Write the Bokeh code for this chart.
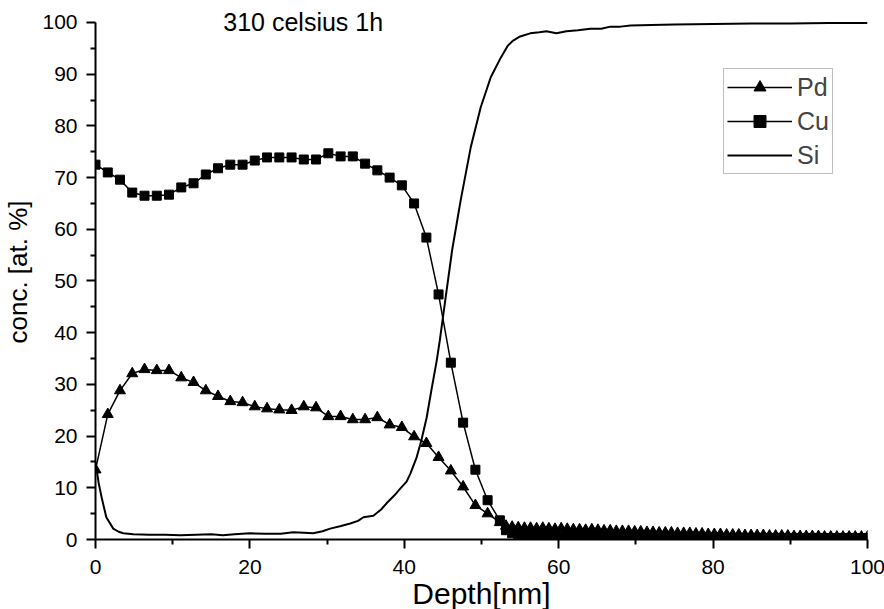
from bokeh.plotting import figure
from bokeh.models import FixedTicker, Label, Legend, LegendItem, Range1d
from bokeh.embed import file_html
from bokeh.resources import INLINE

# Depth grid of the Pd / Cu measurements [nm]
depth = [0.00, 1.59, 3.17, 4.76, 6.35, 7.94, 9.52, 11.11, 12.70, 14.29,
         15.87, 17.46, 19.05, 20.63, 22.22, 23.81, 25.40, 26.98, 28.57, 30.16,
         31.75, 33.33, 34.92, 36.51, 38.10, 39.68, 41.27, 42.86, 44.44, 46.03,
         47.62, 49.21, 50.79, 52.38,
         53.17, 53.97, 54.76, 55.56, 56.35, 57.14, 57.94, 58.73, 59.52, 60.32,
         61.11, 61.90, 62.70, 63.49, 64.29, 65.08, 65.87, 66.67, 67.46, 68.25,
         69.05, 69.84, 70.63, 71.43, 72.22, 73.02, 73.81, 74.60, 75.40, 76.19,
         76.98, 77.78, 78.57, 79.37, 80.16, 80.95, 81.75, 82.54, 83.33, 84.13,
         84.92, 85.71, 86.51, 87.30, 88.10, 88.89, 89.68, 90.48, 91.27, 92.06,
         92.86, 93.65, 94.44, 95.24, 96.03, 96.83, 97.62, 98.41, 99.21, 100.00]

pd_conc = [13.5, 24.2, 28.8, 32.1, 32.9, 32.7, 32.7, 31.3, 30.4, 28.8,
           27.7, 26.7, 26.5, 25.7, 25.3, 25.1, 25.0, 25.7, 25.5, 23.8,
           23.8, 23.2, 23.2, 23.6, 22.2, 21.7, 19.9, 18.6, 15.9, 13.3,
           10.2, 6.6, 5.0, 3.3,
           2.6, 2.4, 2.3, 2.2, 2.2, 2.1, 2.2, 2.1, 2.0, 2.1,
           2.0, 1.9, 1.9, 1.8, 1.9, 1.8, 1.7, 1.7, 1.6, 1.6,
           1.6, 1.5, 1.5, 1.4, 1.4, 1.3, 1.3, 1.3, 1.2, 1.2,
           1.2, 1.1, 1.1, 1.0, 1.0, 1.0, 0.9, 0.9, 0.9, 0.8,
           0.8, 0.8, 0.8, 0.7, 0.7, 0.7, 0.7, 0.6, 0.6, 0.6,
           0.6, 0.6, 0.5, 0.5, 0.5, 0.5, 0.5, 0.5, 0.5, 0.5]

cu_conc = [72.5, 71.0, 69.6, 67.1, 66.5, 66.5, 66.7, 68.1, 68.9, 70.6,
           71.8, 72.5, 72.5, 73.3, 73.9, 73.9, 73.9, 73.5, 73.5, 74.7,
           74.1, 74.1, 72.7, 71.4, 70.0, 68.5, 65.0, 58.4, 47.4, 34.2,
           22.6, 13.5, 7.6, 3.7,
           1.8, 1.2, 0.9, 0.8, 0.7, 0.7, 0.6, 0.6, 0.6, 0.5,
           0.5, 0.5, 0.5, 0.5, 0.4, 0.5, 0.4, 0.4, 0.5, 0.4,
           0.4, 0.4, 0.4, 0.4, 0.4, 0.4, 0.4, 0.3, 0.4, 0.4,
           0.3, 0.4, 0.3, 0.3, 0.4, 0.3, 0.3, 0.3, 0.3, 0.3,
           0.3, 0.3, 0.3, 0.3, 0.3, 0.3, 0.3, 0.3, 0.3, 0.3,
           0.3, 0.3, 0.3, 0.2, 0.3, 0.3, 0.2, 0.3, 0.2, 0.3]

# Si profile (continuous line)
si_depth = [0.0, 0.4, 0.8, 1.4, 2.3, 3.0, 3.6, 4.9, 7.0, 9.0,
            11.0, 13.0, 15.0, 16.5, 18.0, 20.0, 22.0, 24.0, 25.6, 27.0,
            28.2, 29.4, 30.4, 31.8, 33.0, 34.0, 34.7, 36.0, 37.0, 37.7,
            38.7, 39.5, 40.3, 40.8, 41.6, 42.2, 42.9, 43.5, 44.2, 44.6,
            45.3, 46.2, 47.3, 48.6, 49.9, 51.2, 52.5, 53.4, 54.1, 55.0,
            56.3, 57.5, 58.4, 59.7, 61.0, 62.5, 64.1, 65.5, 66.7, 68.0,
            69.3, 72.0, 75.0, 80.0, 85.0, 90.0, 95.0, 100.0]
si_conc = [15.0, 11.0, 8.1, 4.3, 2.1, 1.5, 1.2, 1.0, 0.9, 0.9,
           0.8, 0.9, 1.0, 0.8, 1.0, 1.2, 1.1, 1.1, 1.4, 1.3,
           1.2, 1.6, 2.1, 2.6, 3.1, 3.6, 4.3, 4.6, 5.8, 7.0,
           8.5, 9.9, 11.2, 12.8, 15.9, 19.1, 23.6, 28.8, 34.6, 38.5,
           46.2, 56.0, 65.6, 75.8, 83.6, 89.4, 93.2, 95.5, 96.5, 97.3,
           97.9, 98.1, 98.3, 97.9, 98.3, 98.5, 98.8, 98.8, 99.2, 99.2,
           99.4, 99.5, 99.6, 99.7, 99.8, 99.8, 99.9, 99.9]

x_ticks = [0, 20, 40, 60, 80, 100]
x_minor_ticks = [10, 30, 50, 70, 90]
y_ticks = [0, 10, 20, 30, 40, 50, 60, 70, 80, 90, 100]
y_minor_ticks = [5, 15, 25, 35, 45, 55, 65, 75, 85, 95]

FONT = "Liberation Sans"

# frame extends a little above 100 % so the in-plot title is not clipped;
# the y axis line itself is bounded to 0..100
p = figure(frame_width=772, frame_height=535,
           x_range=Range1d(0, 100), y_range=Range1d(0, 103.48),
           output_backend="svg", toolbar_location=None,
           min_border_left=92, min_border_right=20,
           min_border_top=4, min_border_bottom=70,
           outline_line_color=None, background_fill_color="white",
           border_fill_color="white")
p.grid.visible = False

for ax in (p.xaxis[0], p.yaxis[0]):
    ax.axis_line_width = 2
    ax.axis_line_color = "black"
    ax.major_tick_line_width = 2
    ax.minor_tick_line_width = 2
    ax.major_tick_line_color = "black"
    ax.minor_tick_line_color = "black"
    ax.major_tick_in = 0
    ax.major_tick_out = 9
    ax.minor_tick_in = 0
    ax.minor_tick_out = 5
    ax.major_label_text_font = FONT
    ax.major_label_text_font_size = "21px"
    ax.major_label_text_color = "black"
    ax.axis_label_text_font = FONT
    ax.axis_label_text_font_style = "normal"
    ax.axis_label_text_color = "black"

p.yaxis[0].bounds = (0, 100)
p.xaxis[0].ticker = FixedTicker(ticks=x_ticks, minor_ticks=x_minor_ticks)
p.yaxis[0].ticker = FixedTicker(ticks=y_ticks, minor_ticks=y_minor_ticks)
p.xaxis[0].axis_label = "Depth[nm]"
p.yaxis[0].axis_label = "conc. [at. %]"
p.xaxis[0].axis_label_text_font_size = "30px"
p.yaxis[0].axis_label_text_font_size = "26px"
p.xaxis[0].major_label_standoff = 11
p.yaxis[0].major_label_standoff = 9
p.xaxis[0].axis_label_standoff = 0
p.yaxis[0].axis_label_standoff = 6

pd_line = p.line(depth, pd_conc, line_color="black", line_width=1.5)
pd_mark = p.scatter(depth, pd_conc, marker="triangle", size=11,
                    fill_color="black", line_color="black")
cu_line = p.line(depth, cu_conc, line_color="black", line_width=1.5)
cu_mark = p.scatter(depth, cu_conc, marker="square", size=9,
                    fill_color="black", line_color="black")
si_line = p.line(si_depth, si_conc, line_color="black", line_width=2)

# smaller marker symbols for the legend only (placed outside the visible range)
pd_key = p.scatter([-50], [-50], marker="triangle", size=9,
                   fill_color="black", line_color="black")
cu_key = p.scatter([-50], [-50], marker="square", size=7,
                   fill_color="black", line_color="black")

title = Label(x=16.55, y=100, text="310 celsius 1h", text_font=FONT,
              text_font_size="25px", text_color="black",
              text_baseline="alphabetic")
p.add_layout(title)

legend = Legend(items=[LegendItem(label="Pd", renderers=[pd_line, pd_key]),
                       LegendItem(label="Cu", renderers=[cu_line, cu_key]),
                       LegendItem(label="Si", renderers=[si_line])],
                location=(628, 365), orientation="vertical",
                border_line_color="#808080", border_line_width=1,
                background_fill_color="white", background_fill_alpha=1,
                label_text_font=FONT, label_text_font_size="25px",
                glyph_width=65, glyph_height=30, label_height=30,
                spacing=4, padding=3, margin=0, label_standoff=5)
p.add_layout(legend)

open("out.html", "w").write(file_html(p, INLINE))
